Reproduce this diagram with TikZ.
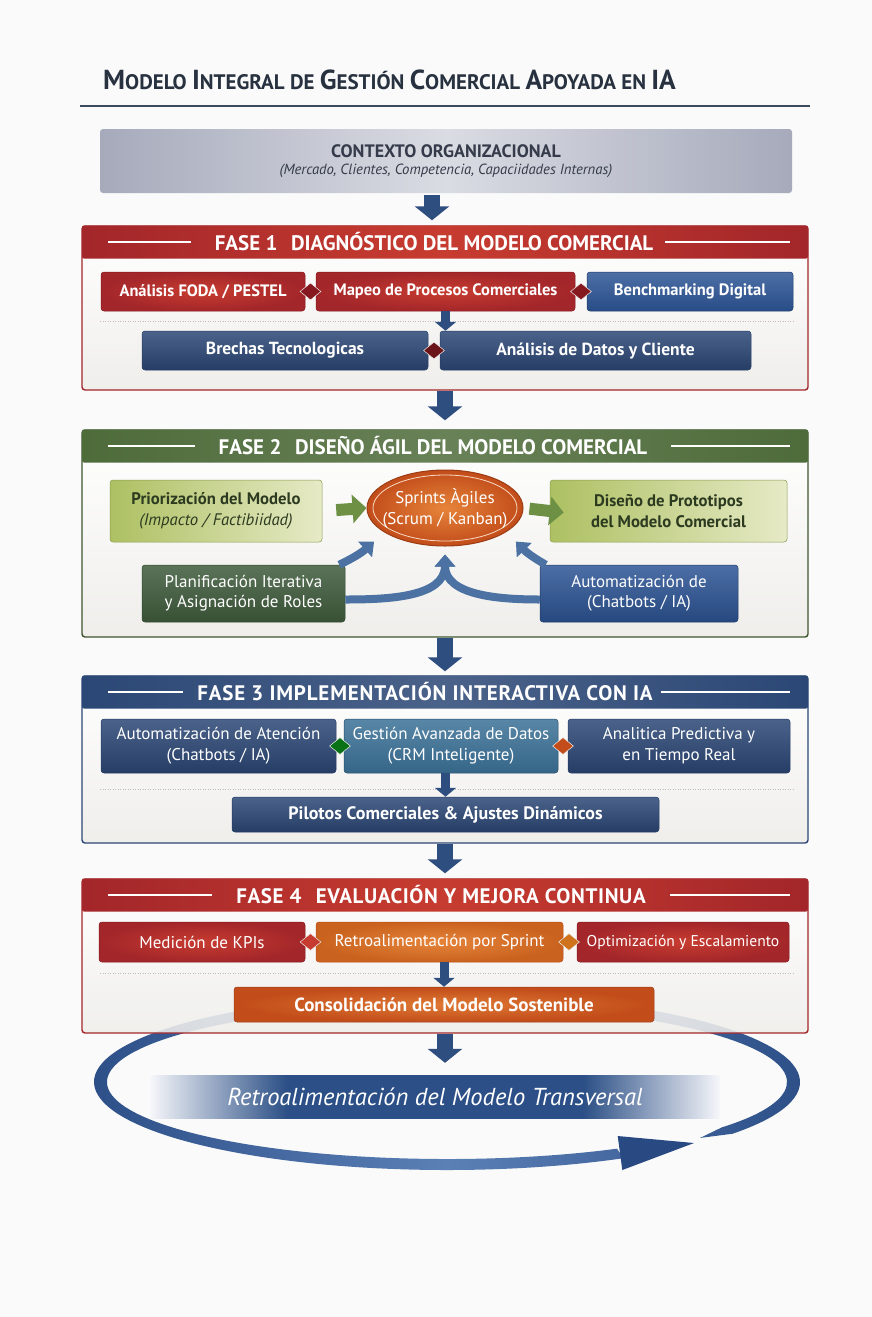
\documentclass[tikz,border=0pt]{standalone}
\usepackage{fontspec}
\setmainfont{PT Sans}
\usetikzlibrary{arrows.meta,shapes.geometric,calc}

\newcommand\myfs[1]{\fontsize{#1}{#1}\selectfont}
\newcommand\capw[2]{{\myfs{27.5}#1}{\myfs{21}#2}}

\definecolor{ink}{HTML}{27313F}
\definecolor{rulec}{HTML}{3B4B5E}
\definecolor{pagebg}{HTML}{FAFAFA}
\definecolor{ctxA}{HTML}{A6AABB}
\definecolor{ctxB}{HTML}{DADCE3}
\definecolor{ctxT}{HTML}{353B4A}
\definecolor{redA}{HTML}{A3262A}
\definecolor{redB}{HTML}{C73C30}
\definecolor{redD}{HTML}{86191F}
\definecolor{bluB}{HTML}{2D5596}
\definecolor{navy}{HTML}{2B4775}
\definecolor{navyD}{HTML}{263E66}
\definecolor{arrowN}{HTML}{2F4E80}
\definecolor{grnH}{HTML}{4E6B3A}
\definecolor{grnD}{HTML}{3E5A3B}
\definecolor{grnT}{HTML}{2C3A20}
\definecolor{lgA}{HTML}{ADC062}
\definecolor{lgB}{HTML}{E6EAC6}
\definecolor{grnArr}{HTML}{6E9045}
\definecolor{orgA}{HTML}{C24C1A}
\definecolor{orgB}{HTML}{E6843A}
\definecolor{orgK}{HTML}{C9621E}
\definecolor{teal}{HTML}{3B7197}
\definecolor{curveB}{HTML}{4C72A3}
\definecolor{frameBg}{HTML}{EFEEEB}
\definecolor{ringA}{HTML}{284982}
\definecolor{ringB}{HTML}{5A80B6}
\definecolor{bandE}{HTML}{F6F7FA}
\definecolor{bandN}{HTML}{2B4F86}
\definecolor{dotc}{HTML}{BDBDBD}

\pgfdeclarehorizontalshading{bandfade}{100bp}{color(0bp)=(bandE); color(25bp)=(bandE); color(37bp)=(bandN); color(63bp)=(bandN); color(75bp)=(bandE); color(100bp)=(bandE)}

\tikzset{
  ctxbox/.style={rounded corners=3pt, minimum width=692pt, minimum height=64pt,
    left color=ctxA, right color=ctxA, middle color=ctxB, text=ctxT, align=center},
  phaseframe/.style={rounded corners=3pt, minimum width=726pt, line width=1.4pt,
    top color=white, bottom color=frameBg},
  hdrband/.style={rounded corners=2pt, minimum width=726pt, minimum height=33pt,
    anchor=north, inner sep=0pt},
  hdrtext/.style={text=white, font=\myfs{21}\bfseries, inner sep=0pt},
  hline/.style={draw=white, line width=1.1pt},
  box/.style={rounded corners=3pt, inner sep=2pt, align=center, text=white,
    font=\myfs{17}, line width=0.5pt},
  boxb/.style={box, font=\myfs{16.5}\bfseries},
  redbox/.style={inner color=redB, outer color=redA, draw=redD},
  orgbox/.style={inner color=orgB, outer color=orgK, draw=orgA},
  navybox/.style={top color=navy!85!white, bottom color=navyD, draw=navyD},
  diam/.style={diamond, minimum width=21pt, minimum height=17pt, inner sep=0pt,
    draw=white!85!gray, line width=0.5pt},
  dotline/.style={draw=dotc, line width=0.8pt, dash pattern=on 1pt off 1.5pt},
  parrow/.style={draw=arrowN, line width=16pt, -{Triangle[width=34pt,length=14pt]}},
  sarrow/.style={draw=arrowN, line width=9pt, -{Triangle[width=21pt,length=9pt]}},
  garrow/.style={draw=grnArr, line width=12pt, -{Triangle[width=28pt,length=14pt]}},
  carrow/.style={draw=curveB, line width=8pt, -{Triangle[width=20pt,length=12pt]}},
}

\begin{document}
\begin{tikzpicture}[x=1pt,y=1pt]
\useasboundingbox (0,0) rectangle (872,-1317);
\fill[pagebg] (0,0) rectangle (872,-1317);

% ---------- title ----------
\node[anchor=base west, inner sep=0pt, text=ink, font=\myfs{21}\bfseries] (title) at (103,-89)
  {\capw{M}{ODELO} \capw{I}{NTEGRAL} DE \capw{G}{ESTIÓN} \capw{C}{OMERCIAL} \capw{A}{POYADA} EN \capw{IA}{}};
\draw[rulec, line width=2.6pt] (80,-106) -- (810,-106);

% ---------- context ----------
\node[ctxbox] (ctx) at (446,-161)
  {{\myfs{18}\bfseries CONTEXTO ORGANIZACIONAL}\\[5pt]{\myfs{14.7}\itshape (Mercado, Clientes, Competencia, Capaciidades Internas)}};

% ---------- phase 1 ----------
\node[phaseframe, draw=redA, minimum height=164pt] (f1) at (445,-308) {};
\node[hdrband, left color=redA, right color=redA, middle color=redB] (h1) at (f1.north) {};
\node[hdrtext] (t1) at ($(h1.center)+(-11,0)$) {FASE 1\hspace{0.4em} DIAGNÓSTICO DEL MODELO COMERCIAL};
\draw[hline] ($(h1.west)+(26,0)$) -- ($(t1.west)+(-24,0)$);
\draw[hline] ($(t1.east)+(12,0)$) -- ($(h1.east)+(-18,0)$);

\node[boxb, redbox, minimum width=204pt, minimum height=39pt] (a1) at (203,-291.5) {Análisis FODA / PESTEL};
\node[boxb, redbox, minimum width=259pt, minimum height=39pt] (b1) at (445.5,-291.5) {Mapeo de Procesos Comerciales};
\node[boxb, top color=bluB!85!white, bottom color=bluB!90!black, draw=bluB!70!black, minimum width=206pt, minimum height=39pt] (c1) at (690,-291.5) {Benchmarking Digital};
\node[diam, fill=redD] (da1) at ($(a1.east)!0.5!(b1.west)$) {};
\node[diam, fill=redD] (db1) at ($(b1.east)!0.5!(c1.west)$) {};
\draw[dotline] (100,-321) -- (793,-321);
\node[boxb, navybox, font=\myfs{17.5}\bfseries, minimum width=286pt, minimum height=39pt] (d1) at (285,-350.5) {Brechas Tecnologicas};
\node[boxb, navybox, font=\myfs{17.5}\bfseries, minimum width=311pt, minimum height=39pt] (e1) at (595.5,-350.5) {Análisis de Datos y Cliente};
\node[diam, fill=redD!80!black] (dd1) at ($(d1.east)!0.5!(e1.west)$) {};
\draw[sarrow] (b1.south) -- (b1.south |- d1.north);

% ---------- phase 2 ----------
\node[phaseframe, draw=grnH!80!black, minimum height=207pt] (f2) at (445,-533.5) {};
\node[hdrband, left color=grnH, right color=grnH, middle color=grnH!85!white] (h2) at (f2.north) {};
\node[hdrtext] (t2) at ($(h2.center)+(-12,0)$) {FASE 2\hspace{0.4em} DISEÑO ÁGIL DEL MODELO COMERCIAL};
\draw[hline] ($(h2.west)+(26,0)$) -- ($(t2.west)+(-24,0)$);
\draw[hline] ($(t2.east)+(24,0)$) -- ($(h2.east)+(-18,0)$);

\node[box, left color=lgA, right color=lgB, draw=lgA!80!black, text=grnT, font=\myfs{16.7},
      minimum width=212pt, minimum height=62pt] (prio) at (216,-511)
  {\textbf{Priorización del Modelo}\\[4pt]\textit{(Impacto / Factibiidad)}};
\node[box, left color=lgA, right color=lgB, draw=lgA!80!black, text=grnT, font=\myfs{16.7}\bfseries,
      minimum width=237pt, minimum height=62pt] (proto) at (668.5,-511)
  {Diseño de Prototipos\\[4pt]del Modelo Comercial};
\node[ellipse, inner color=orgB, outer color=orgA, draw=orgA!80!black, line width=1pt,
      minimum width=156pt, minimum height=76pt, inner sep=0pt] (sprint) at (445,-508) {};
\draw[white!70!orgB, line width=0.8pt] (sprint.center) ellipse [x radius=72, y radius=33];
\node[align=center, text=white, font=\myfs{17}, inner sep=0pt] (sprintlbl) at (sprint.center)
  {Sprints Àgiles\\[4pt](Scrum / Kanban)};
\node[box, top color=grnD!85!white, bottom color=grnD!90!black, draw=grnD!80!black,
      minimum width=203pt, minimum height=57pt] (plan) at (243.5,-593.5)
  {Planificación Iterativa\\[3pt]y Asignación de Roles};
\node[box, top color=bluB!85!white, bottom color=bluB!85!black, draw=bluB!70!black,
      minimum width=198pt, minimum height=57pt] (auto) at (639,-593.5)
  {Automatización de\\[3pt](Chatbots / IA)};

\draw[garrow, shorten <=14pt] (prio.east) -- (sprint.west);
\draw[garrow, shorten <=6pt, shorten >=-14pt] (sprint.east) -- (proto.west);
\draw[carrow] ($(plan.north east)+(-6,0)$) to[bend right=8] ($(sprint.-155)+(-14,-7)$);
\draw[carrow] ($(auto.north west)+(6,0)$) to[bend left=8] ($(sprint.-25)+(14,-7)$);
\draw[carrow] ($(plan.east)+(0,-6)$) to[out=0,in=-90] ($(sprint.south)+(0,-8)$);
\draw[carrow] ($(auto.west)+(0,-6)$) to[out=180,in=-90] ($(sprint.south)+(0,-8)$);

% ---------- phase 3 ----------
\node[phaseframe, draw=navy, minimum height=167pt] (f3) at (445,-759.5) {};
\node[hdrband, left color=navy, right color=navy, middle color=navy!85!white] (h3) at (f3.north) {};
\node[hdrtext, font=\myfs{21}\bfseries\addfontfeatures{LetterSpace=4}] (t3) at ($(h3.center)+(-20,0)$) {FASE 3 IMPLEMENTACIÓN INTERACTIVA CON IA};
\draw[hline] ($(h3.west)+(26,0)$) -- ($(t3.west)+(-14,0)$);
\draw[hline] ($(t3.east)+(8,0)$) -- ($(h3.east)+(-18,0)$);

\node[box, navybox, minimum width=235pt, minimum height=54pt] (aa3) at (218.5,-746)
  {Automatización de Atención\\[4pt](Chatbots / IA)};
\node[box, top color=teal!85!white, bottom color=teal!90!black, draw=teal!70!black,
      minimum width=214pt, minimum height=54pt] (ga3) at (451,-746)
  {Gestión Avanzada de Datos\\[4pt](CRM Inteligente)};
\node[box, navybox, minimum width=222pt, minimum height=54pt] (ap3) at (679,-746)
  {Analitica Predictiva y\\[4pt]en Tiempo Real};
\node[diam, fill=green!45!black!85!teal] (dg3) at ($(aa3.east)!0.5!(ga3.west)$) {};
\node[diam, fill=orgA] (do3) at ($(ga3.east)!0.5!(ap3.west)$) {};
\draw[dotline] (100,-789) -- (793,-789);
\node[boxb, navybox, font=\myfs{18}\bfseries, minimum width=427pt, minimum height=35pt] (pil) at (445.5,-814.5)
  {Pilotos Comerciales \& Ajustes Dinámicos};
\draw[sarrow] (pil.north |- ga3.south) -- (pil.north);

% ---------- feedback ring (behind phase 4) ----------
\coordinate (rc) at (447,-1082);
\shade[left color=ringA, right color=ringA, middle color=ringB]
  ($(rc)+(-43:346 and 82)$) -- ($(rc)+(-36:353 and 88)$)
  arc[start angle=-36, end angle=300, x radius=353, y radius=88]
  -- ($(rc)+(300:340 and 77)$)
  arc[start angle=300, end angle=-36, x radius=340, y radius=77] -- cycle;
\fill[ringA] ($(rc)+(300:346 and 82)+(2.3,-17)$) -- ($(rc)+(300:346 and 82)+(74,10)$)
  -- ($(rc)+(300:346 and 82)+(-2.3,17)$) -- cycle;

% ---------- phase 4 ----------
\node[phaseframe, draw=redA, minimum height=154pt, fill opacity=0.88] (f4) at (445,-956) {};
\node[hdrband, left color=redA, right color=redA, middle color=redB] (h4) at (f4.north) {};
\node[hdrtext, font=\myfs{21}\bfseries\addfontfeatures{LetterSpace=3}] (t4) at ($(h4.center)+(-4,0)$) {FASE 4\hspace{0.4em} EVALUACIÓN Y MEJORA CONTINUA};
\draw[hline] ($(h4.west)+(26,0)$) -- ($(t4.west)+(-24,0)$);
\draw[hline] ($(t4.east)+(24,0)$) -- ($(h4.east)+(-18,0)$);

\node[box, redbox, minimum width=206pt, minimum height=40pt] (j4) at (202,-942) {Medición de KPIs};
\node[box, orgbox, minimum width=247pt, minimum height=40pt] (k4) at (439.5,-942) {Retroalimentación por Sprint};
\node[box, redbox, font=\myfs{15.6}, minimum width=212pt, minimum height=40pt] (l4) at (683,-942) {Optimización y Escalamiento};
\node[diam, fill=redB] (dj4) at ($(j4.east)!0.5!(k4.west)$) {};
\node[diam, fill=orgK!90!yellow] (dk4) at (569,-942) {};
\draw[dotline] (100,-973) -- (793,-973);
\node[boxb, inner color=orgB!80!orgA, outer color=orgA, draw=orgA!80!black, font=\myfs{19}\bfseries,
      minimum width=420pt, minimum height=35pt] (cons) at (444,-1004.5)
  {Consolidación del Modelo Sostenible};
\draw[sarrow] (cons.north |- k4.south) -- (cons.north);

% ---------- feedback band ----------
\node[shading=bandfade, minimum width=570pt, minimum height=43pt, inner sep=0pt,
      text=white, font=\myfs{24.5}\itshape] (fb) at (435,-1096.5)
  {Retroalimentación del Modelo Transversal};

% ---------- phase connectors ----------
\draw[parrow, shorten <=2pt, shorten >=5pt] (ctx.south -| 432,0) -- (f1.north -| 432,0);
\draw[parrow, shorten >=9pt] (f1.south) -- (f2.north);
\draw[parrow, shorten >=4pt] (f2.south) -- (f3.north);
\draw[parrow, shorten >=5pt] (f3.south) -- (f4.north);
\draw[parrow, shorten >=12pt] (f4.south) -- (fb.north -| f4.south);
\end{tikzpicture}
\end{document}
